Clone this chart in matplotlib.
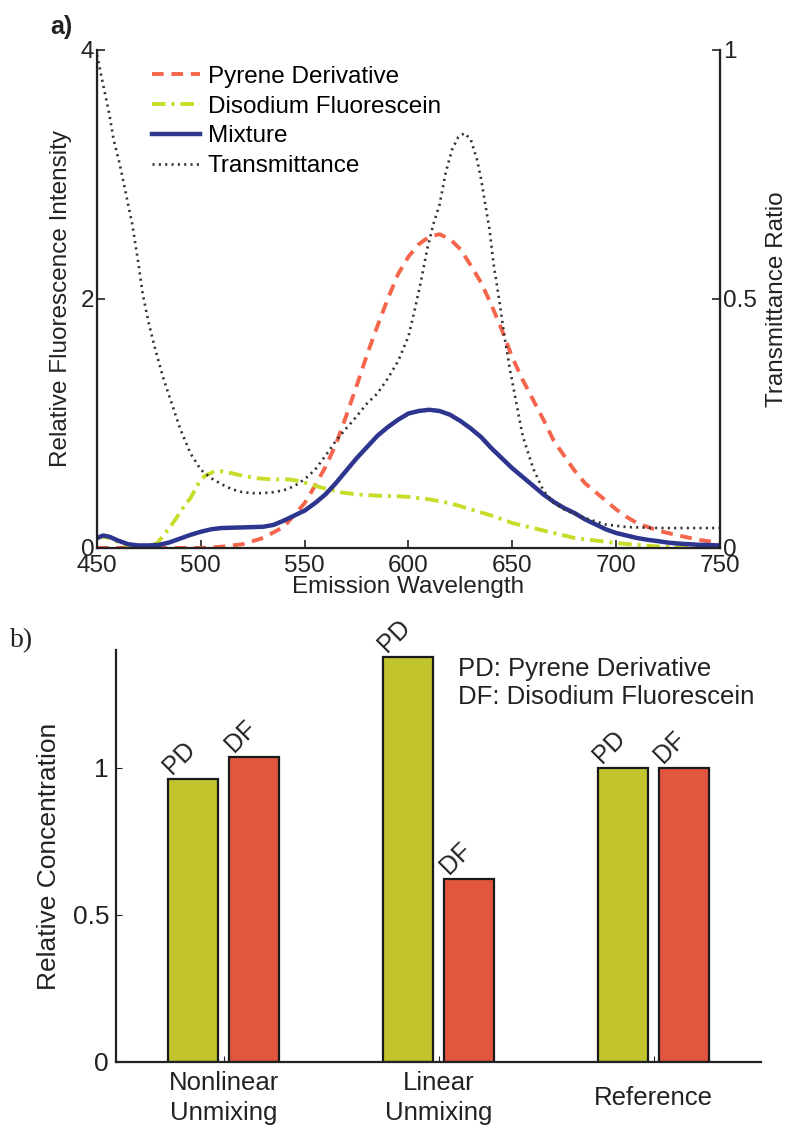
import matplotlib.pyplot as plt

plt.rcParams['font.family'] = ['Liberation Sans', 'DejaVu Sans']

# a) spectra (wavelength in nm)
pd_wl = [450, 480, 500, 510, 520, 530, 540, 550, 555, 560, 565, 570, 575, 580, 585, 590, 595,
         600, 605, 610, 615, 620, 625, 630, 635, 640, 645, 650, 655, 660, 665, 670, 675, 680,
         685, 690, 695, 700, 705, 710, 720, 730, 740, 750]
pd_val = [0, 0, 0, 0.01, 0.03, 0.08, 0.17, 0.36, 0.5, 0.65, 0.83, 1.06, 1.3, 1.55, 1.78, 2.0, 2.2,
          2.34, 2.44, 2.5, 2.52, 2.48, 2.4, 2.27, 2.13, 1.95, 1.75, 1.53, 1.35, 1.19, 1.03, 0.86, 0.74, 0.62,
          0.52, 0.45, 0.38, 0.31, 0.25, 0.2, 0.14, 0.1, 0.065, 0.04]

df_wl = [450, 453, 456, 460, 465, 470, 475, 479, 483, 487, 491, 495, 499, 502, 506, 510, 515, 520,
         527, 535, 543, 548, 553, 558, 562, 568, 575, 585, 595, 600, 610, 620, 630, 640, 650, 660,
         670, 680, 690, 700, 710, 720, 730, 740, 750]
df_val = [0.08, 0.09, 0.08, 0.05, 0.02, 0.01, 0.01, 0.04, 0.12, 0.21, 0.31, 0.4, 0.52, 0.58, 0.61, 0.615, 0.6, 0.58,
          0.56, 0.55, 0.55, 0.535, 0.51, 0.485, 0.47, 0.445, 0.43, 0.42, 0.415, 0.41, 0.39, 0.36, 0.31, 0.26, 0.2, 0.16,
          0.12, 0.08, 0.06, 0.04, 0.025, 0.012, 0.005, 0, 0]

mix_wl = [450, 453, 456, 460, 465, 470, 475, 480, 485, 490, 495, 500, 505, 510, 520, 530, 535, 540,
          545, 550, 555, 560, 565, 570, 575, 580, 585, 590, 595, 600, 605, 610, 615, 620, 625, 630,
          635, 640, 645, 650, 655, 660, 665, 670, 675, 680, 685, 690, 695, 700, 705, 710, 715, 720,
          725, 730, 740, 750]
mix_val = [0.08, 0.1, 0.09, 0.06, 0.03, 0.02, 0.02, 0.025, 0.045, 0.075, 0.105, 0.13, 0.15, 0.16, 0.165, 0.17, 0.185, 0.22,
           0.26, 0.3, 0.36, 0.43, 0.52, 0.62, 0.72, 0.81, 0.9, 0.97, 1.03, 1.08, 1.1, 1.11, 1.1, 1.07, 1.02, 0.96,
           0.89, 0.8, 0.72, 0.64, 0.57, 0.5, 0.43, 0.37, 0.32, 0.28, 0.23, 0.19, 0.15, 0.12, 0.1, 0.08, 0.066, 0.055,
           0.043, 0.035, 0.025, 0.02]

tr_wl = [450, 452, 454, 456, 458, 461, 464, 467, 470, 472, 475, 478, 482, 486, 490, 495, 500, 505,
         510, 515, 520, 525, 530, 535, 540, 545, 550, 555, 560, 565, 570, 575, 580, 585, 590, 595,
         600, 603, 606, 609, 612, 615, 618, 621, 624, 627, 630, 633, 635, 637, 639, 641, 644, 646,
         649, 652, 655, 660, 665, 670, 676, 685, 695, 705, 720, 735, 750]
tr_val = [0.99, 0.95, 0.91, 0.87, 0.82, 0.77, 0.71, 0.65, 0.57, 0.51, 0.45, 0.4, 0.34, 0.29, 0.24, 0.19, 0.157, 0.14,
          0.128, 0.118, 0.112, 0.11, 0.11, 0.112, 0.116, 0.124, 0.138, 0.157, 0.185, 0.215, 0.24, 0.264, 0.29, 0.31, 0.34, 0.375,
          0.425, 0.478, 0.535, 0.6, 0.65, 0.69, 0.755, 0.8, 0.825, 0.833, 0.82, 0.78, 0.74, 0.69, 0.64, 0.57, 0.49, 0.43,
          0.355, 0.29, 0.225, 0.16, 0.115, 0.09, 0.075, 0.06, 0.047, 0.042, 0.04, 0.04, 0.04]

# b) unmixing results
groups = ['Nonlinear\nUnmixing', 'Linear\nUnmixing', 'Reference']
pd_conc = [0.963, 1.378, 1.0]
df_conc = [1.037, 0.622, 1.0]

ink = '#222222'
fig = plt.figure(figsize=(7.91, 11.38), dpi=100)

# ---- a) ----
ax = fig.add_axes([0.1226, 0.5185, 0.7876, 0.4376])
ax2 = ax.twinx()
ax.plot(pd_wl, pd_val, color='#f4654c', lw=2.8, linestyle=(0, (3, 2)), label='Pyrene Derivative')
ax.plot(df_wl, df_val, color='#c8dc2a', lw=2.8, linestyle=(0, (3.5, 1.5, 0.8, 1.5)), label='Disodium Fluorescein')
ax.plot(mix_wl, mix_val, color='#2e358f', lw=3.2, label='Mixture')
tr_line, = ax2.plot(tr_wl, tr_val, color='#333333', lw=1.9, linestyle=(0, (0.8, 1.6)), label='Transmittance')

ax.set_xlim(450, 750)
ax.set_ylim(0, 4)
ax2.set_ylim(0, 1)
ax.set_xticks(range(450, 751, 50))
ax.set_yticks([0, 2, 4])
ax2.set_yticks([0, 0.5, 1])
ax2.set_yticklabels(['0', '0.5', '1'])
for a in (ax, ax2):
    a.spines['top'].set_visible(False)
ax.tick_params(axis='y', direction='in', length=6, width=1.2, labelsize=17.5, pad=2, colors=ink)
ax.tick_params(axis='x', direction='in', length=6, width=1.2, labelsize=17.5, pad=5, colors=ink)
ax2.tick_params(direction='in', length=6, width=1.2, labelsize=17.5, pad=2, colors=ink)
for s in ('left', 'bottom', 'right'):
    ax2.spines[s].set_linewidth(1.6)
    ax2.spines[s].set_color(ink)
ax.set_xlabel('Emission Wavelength', fontsize=17.5, labelpad=-1, color=ink)
ax.set_ylabel('Relative Fluorescence Intensity', fontsize=17.5, labelpad=6, color=ink)
ax2.set_ylabel('Transmittance Ratio', fontsize=17.5, labelpad=7, color=ink)

handles = ax.get_lines() + [tr_line]
ax.legend(handles=handles, labels=[h.get_label() for h in handles], loc='upper left',
          bbox_to_anchor=(0.088, 0.968), frameon=False, fontsize=17.5, handlelength=2.0,
          handletextpad=0.3, labelspacing=0.32, borderpad=0, borderaxespad=0)
fig.text(0.063, 0.976, 'a)', fontsize=18, fontweight='bold', color=ink, ha='left', va='center')

# ---- b) ----
bx = fig.add_axes([0.1467, 0.0668, 0.8154, 0.3617])
xs = range(1, len(groups) + 1)
off = 0.143
w = 0.232
pd_bars = bx.bar([x - off for x in xs], pd_conc, w, color='#c2c42e', edgecolor='#1a1a1a', lw=1.6)
df_bars = bx.bar([x + off for x in xs], df_conc, w, color='#e2563f', edgecolor='#1a1a1a', lw=1.6)
for bars, tag in ((pd_bars, 'PD'), (df_bars, 'DF')):
    for b in bars:
        bx.annotate(tag, (b.get_x(), b.get_height()), xytext=(3, 3), textcoords='offset points',
                    rotation=45, rotation_mode='anchor', ha='left', va='baseline',
                    fontsize=18, color=ink)

bx.set_xlim(0.5, 3.5)
bx.set_ylim(0, 1.4)
bx.set_yticks([0, 0.5, 1])
bx.set_yticklabels(['0', '0.5', '1'])
bx.set_xticks(list(xs))
bx.set_xticklabels(groups, linespacing=1.3)
for lab in bx.get_xticklabels():
    lab.set_verticalalignment('center')
bx.spines['top'].set_visible(False)
bx.spines['right'].set_visible(False)
for s in ('left', 'bottom'):
    bx.spines[s].set_linewidth(1.6)
    bx.spines[s].set_color(ink)
bx.tick_params(axis='y', direction='in', length=4, labelsize=19, pad=5, colors=ink)
bx.tick_params(axis='x', direction='in', length=4, labelsize=18.5, pad=26, colors=ink)
bx.set_ylabel('Relative Concentration', fontsize=19, labelpad=8, color=ink)
bx.text(0.53, 0.985, 'PD: Pyrene Derivative\nDF: Disodium Fluorescein', transform=bx.transAxes,
        fontsize=18.5, va='top', ha='left', linespacing=1.25, color=ink)
fig.text(0.013, 0.437, 'b)', fontsize=20, family=['Liberation Serif', 'DejaVu Serif'],
         color=ink, ha='left', va='center')

fig.savefig('out.png', dpi=100)
